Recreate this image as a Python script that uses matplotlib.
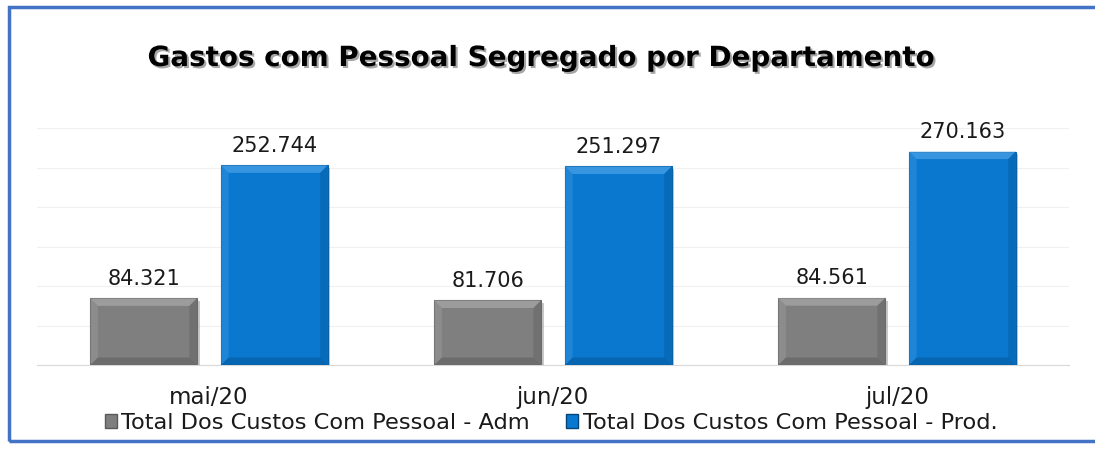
import numpy as np
import matplotlib.pyplot as plt
from matplotlib.patches import Rectangle, Polygon, Patch
import matplotlib.patheffects as pe

months = ['mai/20', 'jun/20', 'jul/20']
adm = [84321, 81706, 84561]
prod = [252744, 251297, 270163]
series_names = ['Total Dos Custos Com Pessoal - Adm', 'Total Dos Custos Com Pessoal - Prod.']
labels_adm = ['84.321', '81.706', '84.561']
labels_prod = ['252.744', '251.297', '270.163']

gray = '#7f7f7f'
blue = '#0a78cf'

fig = plt.figure(figsize=(10.95, 4.57), dpi=100)
ax = fig.add_axes([37 / 1095, 1 - 365 / 457, (1069 - 37) / 1095, (365 - 128) / 457])

x = np.arange(len(months))
w = 0.31
off = 0.19


def bevel(bars, light, dark):
    # fake the excel bevel look with four trapezoids per bar
    bx = 0.022
    by = 9500
    for b in bars:
        x0, y0 = b.get_x(), b.get_y()
        x1, y1 = x0 + b.get_width(), y0 + b.get_height()
        ax.add_patch(Polygon([(x0, y1), (x1, y1), (x1 - bx, y1 - by), (x0 + bx, y1 - by)],
                             closed=True, fc=light, ec='none', alpha=0.55, zorder=4))
        ax.add_patch(Polygon([(x0, y0), (x0, y1), (x0 + bx, y1 - by), (x0 + bx, y0 + by)],
                             closed=True, fc=light, ec='none', alpha=0.25, zorder=4))
        ax.add_patch(Polygon([(x1, y0), (x1, y1), (x1 - bx, y1 - by), (x1 - bx, y0 + by)],
                             closed=True, fc=dark, ec='none', alpha=0.25, zorder=4))
        ax.add_patch(Polygon([(x0, y0), (x1, y0), (x1 - bx, y0 + by), (x0 + bx, y0 + by)],
                             closed=True, fc=dark, ec='none', alpha=0.35, zorder=4))


shadow = [pe.SimplePatchShadow(offset=(2, -2), alpha=0.25), pe.Normal()]
b1 = ax.bar(x - off, adm, w, color=gray, edgecolor='#6a6a6a', linewidth=0.8, zorder=3,
            path_effects=shadow)
b2 = ax.bar(x + off, prod, w, color=blue, edgecolor='#0862a8', linewidth=0.8, zorder=3,
            path_effects=shadow)
bevel(b1, '#b5b5b5', '#4a4a4a')
bevel(b2, '#5fb0f0', '#04457a')

for bars, labs in ((b1, labels_adm), (b2, labels_prod)):
    for b, t in zip(bars, labs):
        ax.annotate(t, (b.get_x() + b.get_width() / 2, b.get_height()),
                    xytext=(0, 7), textcoords='offset points', ha='center', va='bottom',
                    fontsize=15, color='#1a1a1a')

ax.set_xlim(-0.5, 2.5)
ax.set_ylim(0, 300000)
ax.set_yticks(np.arange(0, 300001, 50000))
ax.yaxis.grid(True, color='#f0f0f0', linewidth=0.8)
ax.set_axisbelow(True)
ax.tick_params(axis='y', left=False, labelleft=False)
ax.tick_params(axis='x', length=0, pad=15, labelsize=16.5, labelcolor='#1a1a1a')
ax.set_xticks(x)
ax.set_xticklabels(months)
for s in ['top', 'right', 'left']:
    ax.spines[s].set_visible(False)
ax.spines['bottom'].set_color('#d9d9d9')

handles = [Patch(facecolor=gray, edgecolor='#5a5a5a'), Patch(facecolor=blue, edgecolor='#04457a')]
fig.legend(handles, series_names, loc='center', bbox_to_anchor=(551 / 1095, 1 - 423 / 457), ncol=2,
           frameon=False, fontsize=16.2, handlelength=0.55, handleheight=0.55, handletextpad=0.2,
           columnspacing=1.6, labelcolor='#1a1a1a')

fig.text(541 / 1095, 1 - 58 / 457, 'Gastos com Pessoal Segregado por Departamento', ha='center', va='center',
         fontsize=20, fontweight='bold', color='black',
         path_effects=[pe.withSimplePatchShadow(offset=(1.5, -1.5), alpha=0.35)])

fig.patches.append(Rectangle((9 / 1095, 1 - 441 / 457), 1.2, (441 - 6.5) / 457,
                             transform=fig.transFigure, fill=False, edgecolor='#4472c4',
                             linewidth=2.5, clip_on=False))

fig.savefig('out.png', dpi=100)
